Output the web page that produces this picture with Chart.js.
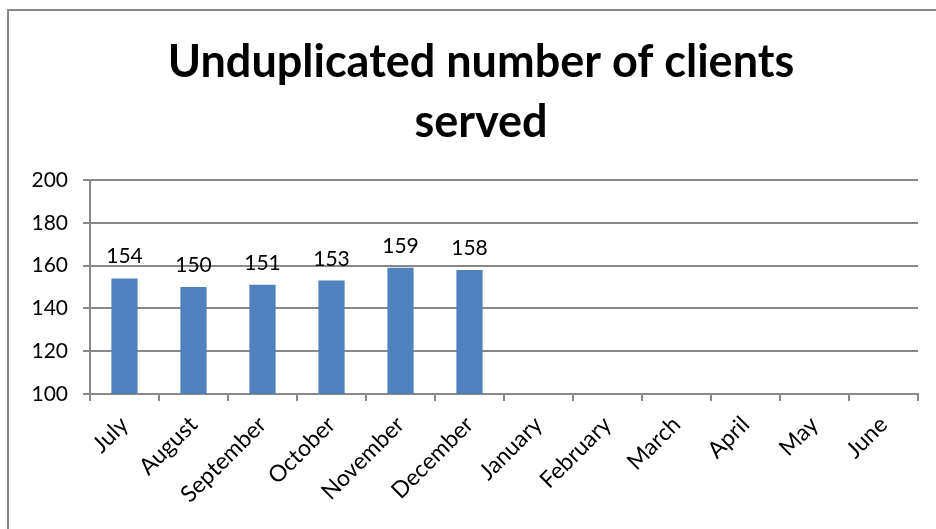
<!DOCTYPE html>
<html>
<head>
  <title>Unduplicated number of clients served</title>
  <script src="https://cdn.jsdelivr.net/npm/chart.js"></script>
  <style>
    html, body { margin: 0; padding: 0; background: #fff; }
    canvas { display: block; }
  </style>
</head>
<body>
  <canvas id="clientsChart" width="936" height="529"></canvas>

  <script>
    // Months of the program year
    var months = ['July', 'August', 'September', 'October', 'November', 'December',
                  'January', 'February', 'March', 'April', 'May', 'June'];
    // Clients served per month (no data yet for the second half)
    var clientsServed = [154, 150, 151, 153, 159, 158, null, null, null, null, null, null];
    // Y axis range and step
    var yTicks = { min: 100, max: 200, step: 20 };

    var titleLines = ['Unduplicated number of clients', 'served'];
    var fontFace = 'Lato, "Open Sans", sans-serif';
    var gridGray = '#888888';

    // Outer frame and title drawn directly on the canvas
    var framePlugin = {
      id: 'frame',
      beforeDraw: function(chart) {
        var ctx = chart.ctx;
        ctx.save();
        ctx.fillStyle = '#fff';
        ctx.fillRect(0, 0, chart.width, chart.height);
        ctx.strokeStyle = '#878787';
        ctx.lineWidth = 2;
        ctx.strokeRect(8, 10, chart.width + 20, chart.height + 20);
        ctx.fillStyle = '#000';
        ctx.font = 'bold 45px ' + fontFace;
        ctx.textAlign = 'center';
        ctx.textBaseline = 'alphabetic';
        ctx.fillText(titleLines[0], 481, 77);
        ctx.fillText(titleLines[1], 481, 137);
        ctx.restore();
      }
    };

    // Value labels above each bar
    var valueLabels = {
      id: 'valueLabels',
      afterDatasetsDraw: function(chart) {
        var ctx = chart.ctx;
        var meta = chart.getDatasetMeta(0);
        ctx.save();
        ctx.fillStyle = '#000';
        ctx.font = '21px ' + fontFace;
        ctx.textAlign = 'center';
        ctx.textBaseline = 'alphabetic';
        meta.data.forEach(function(bar, i) {
          var v = clientsServed[i];
          if (v === null) return;
          ctx.fillText(String(v), bar.x, bar.y - 15);
        });
        ctx.restore();
      }
    };

    new Chart(document.getElementById('clientsChart'), {
      type: 'bar',
      data: {
        labels: months,
        datasets: [{
          label: 'Clients served',
          data: clientsServed,
          backgroundColor: '#4F81BD',
          borderWidth: 0,
          barPercentage: 0.38,
          categoryPercentage: 1.0
        }]
      },
      plugins: [framePlugin, valueLabels],
      options: {
        responsive: false,
        animation: false,
        devicePixelRatio: 1,
        layout: { padding: { left: 0, right: 18, top: 180, bottom: 0 } },
        plugins: {
          legend: { display: false },
          title: { display: false },
          tooltip: { enabled: false }
        },
        scales: {
          x: {
            offset: true,
            afterFit: function(scale) { scale.height = 135; },
            grid: {
              offset: true,
              drawOnChartArea: false,
              drawTicks: true,
              tickLength: 7,
              color: gridGray,
              lineWidth: 2
            },
            border: { color: gridGray, width: 2 },
            ticks: {
              color: '#000',
              font: { family: fontFace, size: 23 },
              minRotation: 45,
              maxRotation: 45,
              padding: 10,
              autoSkip: false
            }
          },
          y: {
            min: yTicks.min,
            max: yTicks.max,
            afterFit: function(scale) { scale.width = 90; },
            grid: {
              color: gridGray,
              lineWidth: 2,
              tickLength: 7
            },
            border: { color: gridGray, width: 2 },
            ticks: {
              stepSize: yTicks.step,
              color: '#000',
              font: { family: fontFace, size: 21 },
              padding: 15
            }
          }
        }
      }
    });
  </script>
</body>
</html>
